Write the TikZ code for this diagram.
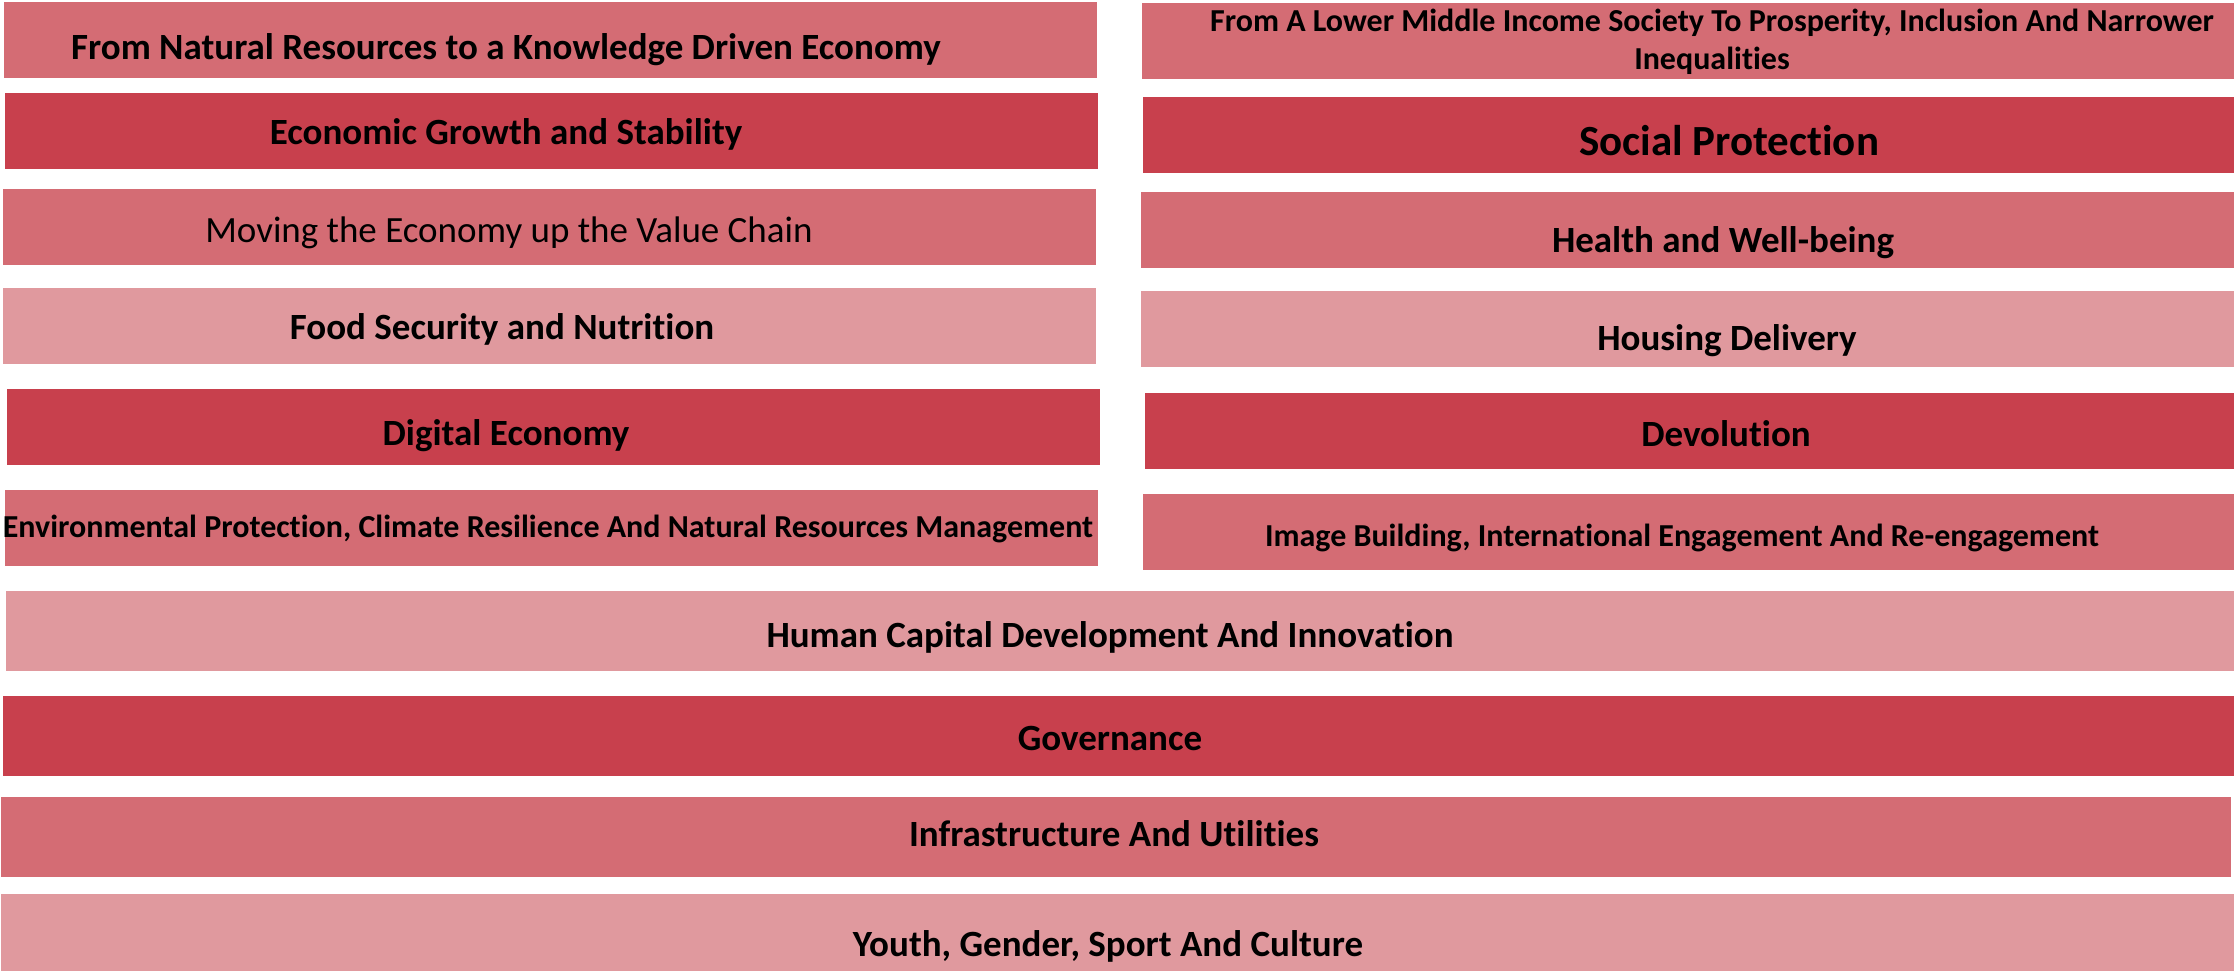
\documentclass[tikz,border=0pt]{standalone}
\usepackage{fontspec}
\setmainfont[Ligatures=NoCommon]{Carlito}
\definecolor{redA}{HTML}{C8404D}
\definecolor{redB}{HTML}{D46C74}
\definecolor{redC}{HTML}{E0999E}
\begin{document}
\begin{tikzpicture}[x=0.5pt,y=-0.5pt,
    lbl/.style={anchor=base,inner sep=0pt,font=\bfseries\fontsize{18.5}{22}\selectfont},
    lblsmall/.style={lbl,font=\bfseries\fontsize{#1}{18.9}\selectfont},
    lblbig/.style={lbl,font=\bfseries\fontsize{21.5}{26}\selectfont},
    lblthin/.style={lbl,font=\fontsize{18.5}{22}\selectfont}]
    \useasboundingbox (0,0) rectangle (2234,971);
    %LEFT COLUMN:
     \begin{scope}
     %barras ------------------
     \fill[redB] (4,2) rectangle (1097,78);
     \node[lbl] (natres) at (506,59) {From Natural Resources to a Knowledge Driven Economy};
     \fill[redA] (5,93) rectangle (1098,169);
     \node[lbl] (growth) at (506,144.5) {Economic Growth and Stability};
     \fill[redB] (3,189) rectangle (1096,265);
     \node[lblthin] (valuechain) at (509,242) {Moving the Economy up the Value Chain};
     \fill[redC] (3,288) rectangle (1096,364);
     \node[lbl] (food) at (502,339.5) {Food Security and Nutrition};
     \fill[redA] (7,389) rectangle (1100,465);
     \node[lbl] (digital) at (506,445) {Digital Economy};
     \fill[redB] (5,490) rectangle (1098,566);
     \node[lblsmall=16] (environment) at (548,537) {Environmental Protection, Climate Resilience And Natural Resources Management};
     %----------------------------------
     \end{scope}
    %RIGHT COLUMN:
     \begin{scope}
     %barras ------------------
     \fill[redB] (1142,3) rectangle (2234,79);
     \node[lblsmall=16,align=center] (prosperity) at (1712,69.5) {From A Lower Middle Income Society To Prosperity, Inclusion And Narrower\\Inequalities};
     \fill[redA] (1143,97) rectangle (2234,173);
     \node[lblbig] (social) at (1729,155) {Social Protection};
     \fill[redB] (1141,192) rectangle (2234,268);
     \node[lbl] (health) at (1723,252.5) {Health and Well-being};
     \fill[redC] (1141,291) rectangle (2234,367);
     \node[lbl] (housing) at (1727,350.5) {Housing Delivery};
     \fill[redA] (1145,393) rectangle (2234,469);
     \node[lbl] (devolution) at (1726,446.5) {Devolution};
     \fill[redB] (1143,494) rectangle (2234,570);
     \node[lblsmall=16] (image) at (1682,546) {Image Building, International Engagement And Re-engagement};
     %----------------------------------
     \end{scope}
    %FULL WIDTH:
     \begin{scope}
     %barras ------------------
     \fill[redC] (6,591) rectangle (2234,671);
     \node[lbl] (human) at (1110,647.5) {Human Capital Development And Innovation};
     \fill[redA] (3,696) rectangle (2234,776);
     \node[lbl] (governance) at (1110,750) {Governance};
     \fill[redB] (1,797) rectangle (2231,877);
     \node[lbl] (infra) at (1114,846) {Infrastructure And Utilities};
     \fill[redC] (1,894) rectangle (2234,971);
     \node[lbl] (youth) at (1108,956) {Youth, Gender, Sport And Culture};
     %----------------------------------
     \end{scope}
    \end{tikzpicture}
\end{document}
